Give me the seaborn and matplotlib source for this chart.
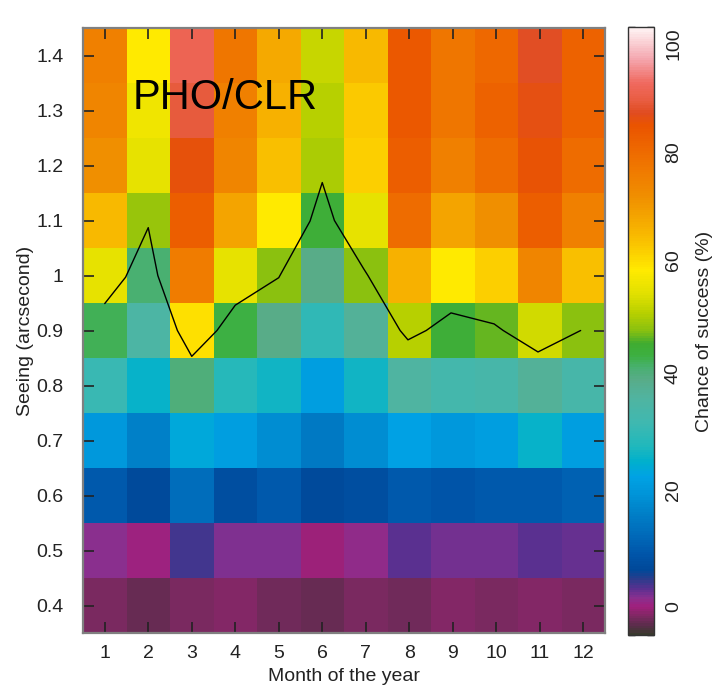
import numpy as np
import pandas as pd
import matplotlib
matplotlib.use("Agg")
import matplotlib.pyplot as plt
from matplotlib.colors import LinearSegmentedColormap
import seaborn as sns

# ---------------- data ----------------
months = [1, 2, 3, 4, 5, 6, 7, 8, 9, 10, 11, 12]
seeing = [1.4, 1.3, 1.2, 1.1, 1.0, 0.9, 0.8, 0.7, 0.6, 0.5, 0.4]
seeing_labels = ["0.4", "0.5", "0.6", "0.7", "0.8", "0.9", "1", "1.1", "1.2", "1.3", "1.4"]

# chance of success (%) per seeing level (rows) and month (columns)
row_14 = [75, 60, 89.5, 77, 68, 54, 66, 83, 77, 80, 86, 81]
row_13 = [74, 58, 87.5, 75, 67, 53, 64, 83, 77, 81, 85, 81]
row_12 = [72, 57, 84.5, 74, 65, 52, 63, 82, 75, 79, 84, 79]
row_11 = [66, 51, 82, 69, 60, 47, 57, 79, 69, 72, 82, 75]
row_10 = [57, 44, 76, 57, 50, 42, 50, 67, 60, 63, 74, 65]
row_09 = [45, 38, 61, 46, 42, 33, 40, 53, 47, 49, 55, 50]
row_08 = [34, 29, 43, 32, 30, 25, 30, 39, 36, 37, 40, 37]
row_07 = [24, 20, 27, 25, 22, 19, 22, 26, 24, 25, 29, 25]
row_06 = [14, 11, 17, 12, 14, 11, 12, 14, 13, 14, 14, 15]
row_05 = [6.0, 5.0, 8.3, 6.5, 6.3, 4.5, 5.5, 7.8, 6.8, 7.0, 7.8, 7.2]
row_04 = [3.0, 2.0, 3.0, 3.5, 2.5, 2.0, 3.0, 2.5, 3.5, 3.0, 3.5, 3.0]

# black curve (month, seeing)
line_month = [1, 1.48, 2, 2.22, 2.67, 3, 3.58, 4, 5, 5.72, 6, 6.28, 6.95, 7.05,
              7.79, 7.97, 8.39, 8.96, 9.95, 10.16, 10.96, 11.94]
line_seeing = [0.949, 0.997, 1.087, 1.0, 0.9, 0.853, 0.9, 0.946, 0.996, 1.099, 1.169, 1.1,
               1.0125, 1.0, 0.9, 0.883, 0.9, 0.932, 0.912, 0.9, 0.861, 0.9]

cbar_ticks = [0, 10, 20, 30, 40, 50, 60, 70, 80, 90, 100]
cbar_labels = ["0", "20", "40", "60", "80", "100"]

# ---------------- colormap ----------------
cmap_nodes = [
    (0, "#3a3a2e"), (1.5, "#5c2c4c"), (3, "#802864"), (4.5, "#a0207c"),
    (6, "#883090"), (7.5, "#583090"), (9, "#2c3c8c"), (10.5, "#004898"),
    (13, "#0054a8"), (16, "#0068b8"), (20, "#0080c8"), (23, "#0094d8"),
    (26, "#00a2e4"), (28.5, "#00b0cc"), (31, "#20b8bc"), (35, "#40b8b0"),
    (39, "#50b4a0"), (42, "#58ac88"), (44, "#48b070"), (46, "#3cb040"),
    (48, "#40ac30"), (50, "#88c010"), (53, "#b8d000"), (56, "#e0e000"),
    (60, "#ffea00"), (63, "#fcd000"), (66, "#f8b800"), (69, "#f4a400"),
    (72, "#f09000"), (76, "#f07c00"), (80, "#ee6800"), (84, "#ea5400"),
    (86, "#e04c20"), (88, "#e85c40"), (91, "#f06a60"), (95, "#f4a8b0"),
    (100, "#fff4f4"),
]
cmap = LinearSegmentedColormap.from_list(
    "pal", [(v / 100.0, c) for v, c in cmap_nodes], N=256)

# ---------------- figure ----------------
sns.set_theme(style="white")
plt.rcParams["font.family"] = ["Liberation Sans", "DejaVu Sans"]

W, H = 719, 688
fig = plt.figure(figsize=(W / 100, H / 100), dpi=100)
rect = [83 / W, (H - 633) / H, 522 / W, 605 / H]
ax_hm = fig.add_axes(rect)
cax = fig.add_axes([628 / W, (H - 635) / H, 26 / W, 608 / H])

df = pd.DataFrame(
    [row_14, row_13, row_12, row_11, row_10, row_09, row_08, row_07, row_06, row_05, row_04],
    index=seeing, columns=months)

sns.heatmap(df, ax=ax_hm, cmap=cmap, vmin=0, vmax=100, cbar=True, cbar_ax=cax,
            xticklabels=False, yticklabels=False, linewidths=0)
ax_hm.set_xlabel("")
ax_hm.set_ylabel("")
for s in ax_hm.spines.values():
    s.set_visible(False)

# overlay axes in data units
ax = fig.add_axes(rect, facecolor="none")
ax.set_xlim(0.5, 12.5)
ax.set_ylim(0.35, 1.45)
sns.lineplot(x=line_month, y=line_seeing, ax=ax, sort=False, estimator=None,
             color="black", linewidth=1.0)

ax.set_xticks(months)
ax.set_xticklabels([str(m) for m in months])
ax.set_yticks(seeing[::-1])
ax.set_yticklabels(seeing_labels)
ax.tick_params(axis="both", which="major", direction="in", length=8, width=1.2,
               color="#222222", labelsize=14, labelcolor="#222222",
               top=True, right=True, bottom=True, left=True)
ax.tick_params(axis="x", pad=9)
ax.tick_params(axis="y", pad=14)
for s in ax.spines.values():
    s.set_visible(True)
    s.set_color("#808080")
    s.set_linewidth(1.6)
ax.set_xlabel("Month of the year", fontsize=14, color="#222222", labelpad=4)
ax.set_ylabel("Seeing (arcsecond)", fontsize=14, color="#222222", labelpad=2)

ax.text(3.78, 1.322, "PHO/CLR", fontsize=30, ha="center", va="center", color="black")

# colorbar
cb = ax_hm.collections[0].colorbar
cb.set_ticks(cbar_ticks)
cb.ax.tick_params(which="both", direction="in", length=5, width=1.0, color="black",
                  left=True, right=True, labelright=False, labelleft=False)
cb.outline.set_edgecolor("#333333")
cb.outline.set_linewidth(1.0)
label_pos = [0.046, 0.238, 0.431, 0.617, 0.794, 0.972]
for txt, yf in zip(cbar_labels, label_pos):
    cb.ax.text(1.75, yf, txt, transform=cb.ax.transAxes, rotation=90,
               ha="center", va="center", fontsize=14, color="#222222")
cb.ax.text(2.95, 0.5, "Chance of success (%)", transform=cb.ax.transAxes, rotation=90,
           ha="center", va="center", fontsize=14, color="#222222")

fig.savefig("out.png", dpi=100)
